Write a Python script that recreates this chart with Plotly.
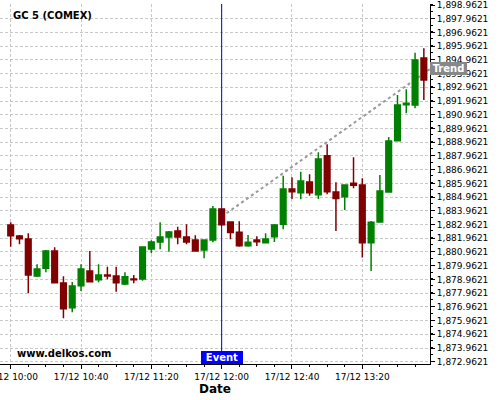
import plotly.graph_objects as go

# ---- data (5-minute candles, 17/12) ----
times = [
    "2020-12-17 10:00", "2020-12-17 10:05", "2020-12-17 10:10", "2020-12-17 10:15",
    "2020-12-17 10:20", "2020-12-17 10:25", "2020-12-17 10:30", "2020-12-17 10:35",
    "2020-12-17 10:40", "2020-12-17 10:45", "2020-12-17 10:50", "2020-12-17 10:55",
    "2020-12-17 11:00", "2020-12-17 11:05", "2020-12-17 11:10", "2020-12-17 11:15",
    "2020-12-17 11:20", "2020-12-17 11:25", "2020-12-17 11:30", "2020-12-17 11:35",
    "2020-12-17 11:40", "2020-12-17 11:45", "2020-12-17 11:50", "2020-12-17 11:55",
    "2020-12-17 12:00", "2020-12-17 12:05", "2020-12-17 12:10", "2020-12-17 12:15",
    "2020-12-17 12:20", "2020-12-17 12:25", "2020-12-17 12:30", "2020-12-17 12:35",
    "2020-12-17 12:40", "2020-12-17 12:45", "2020-12-17 12:50", "2020-12-17 12:55",
    "2020-12-17 13:00", "2020-12-17 13:05", "2020-12-17 13:10", "2020-12-17 13:15",
    "2020-12-17 13:20", "2020-12-17 13:25", "2020-12-17 13:30", "2020-12-17 13:35",
    "2020-12-17 13:40", "2020-12-17 13:45", "2020-12-17 13:50", "2020-12-17 13:55",
]
opens = [
    1882.93, 1882.13, 1881.91, 1879.21, 1879.77, 1881.03, 1878.70, 1876.90,
    1878.50, 1879.57, 1878.94, 1879.28, 1879.21, 1878.63, 1878.99, 1878.99,
    1881.18, 1881.69, 1882.05, 1882.49, 1882.05, 1881.83, 1881.10, 1881.83,
    1884.09, 1883.15, 1882.39, 1881.42, 1881.83, 1881.64, 1882.07, 1882.98,
    1885.55, 1885.28, 1886.06, 1885.14, 1887.98, 1885.33, 1884.99, 1885.97,
    1885.84, 1881.64, 1883.15, 1885.33, 1889.07, 1891.70, 1891.67, 1895.10,
]
highs = [
    1883.12, 1882.20, 1882.32, 1880.06, 1881.10, 1881.30, 1879.19, 1878.77,
    1880.06, 1881.03, 1880.06, 1879.89, 1879.89, 1879.48, 1879.28, 1881.36,
    1881.81, 1883.12, 1882.49, 1882.80, 1882.98, 1882.18, 1881.89, 1884.31,
    1884.13, 1883.18, 1883.20, 1882.20, 1882.10, 1882.32, 1883.00, 1886.52,
    1886.40, 1886.81, 1886.62, 1888.23, 1888.81, 1886.04, 1885.84, 1887.86,
    1886.33, 1883.22, 1886.57, 1889.34, 1892.40, 1892.82, 1895.49, 1895.81,
]
lows = [
    1881.35, 1881.52, 1877.95, 1879.14, 1879.48, 1878.68, 1876.13, 1876.56,
    1878.12, 1878.77, 1878.75, 1878.97, 1878.07, 1878.55, 1878.68, 1878.87,
    1880.86, 1881.16, 1880.98, 1881.52, 1881.52, 1880.98, 1880.50, 1881.67,
    1882.93, 1881.89, 1881.35, 1881.35, 1881.40, 1881.64, 1881.69, 1882.61,
    1884.82, 1884.80, 1885.06, 1884.82, 1885.17, 1882.49, 1884.02, 1885.60,
    1880.56, 1879.57, 1883.10, 1885.28, 1889.07, 1891.07, 1891.43, 1892.04,
]
closes = [
    1882.15, 1881.93, 1879.28, 1879.72, 1881.03, 1878.72, 1876.83, 1878.48,
    1879.72, 1878.79, 1879.28, 1879.21, 1878.72, 1879.16, 1878.94, 1881.32,
    1881.69, 1882.05, 1882.42, 1882.05, 1881.69, 1881.03, 1881.83, 1884.09,
    1882.95, 1882.38, 1881.42, 1881.67, 1881.71, 1881.91, 1882.93, 1885.55,
    1885.35, 1886.13, 1885.28, 1887.74, 1885.35, 1884.86, 1885.84, 1885.82,
    1881.64, 1883.13, 1885.41, 1889.05, 1891.67, 1891.80, 1894.95, 1893.50,
]

trend_times = ["2020-12-17 12:00", "2020-12-17 13:58:30"]
trend_values = [1883.53, 1894.30]
event_time = "2020-12-17 12:00"

x_range = ["2020-12-17 09:53:55", "2020-12-17 13:58:30"]
y_range = [1872.796, 1899.035]

FONT = "DejaVu Sans"
GREEN = "#008000"
RED = "#800000"
GRID = "#c8c8c8"

fig = go.Figure()
fig.add_trace(go.Candlestick(
    x=times, open=opens, high=highs, low=lows, close=closes,
    increasing=dict(line=dict(color=GREEN, width=1.5), fillcolor=GREEN),
    decreasing=dict(line=dict(color=RED, width=1.5), fillcolor=RED),
    whiskerwidth=0,
    showlegend=False,
    hoverinfo="skip",
))

shapes = [
    dict(type="line", xref="x", yref="y",
         x0=trend_times[0], y0=trend_values[0], x1=trend_times[1], y1=trend_values[1],
         line=dict(color="#999999", width=2, dash="dot"), layer="between"),
    dict(type="line", xref="x", yref="paper",
         x0=event_time, x1=event_time, y0=0, y1=1,
         line=dict(color="#0000dd", width=1), layer="above"),
]

annotations = [
    dict(text="<b>GC 5 (COMEX)</b>", xref="paper", yref="paper", x=0.0256, y=0.967,
         xanchor="left", yanchor="middle", showarrow=False,
         font=dict(family=FONT, size=10, color="black")),
    dict(text="<b>www.delkos.com</b>", xref="paper", yref="paper", x=0.035, y=0.028,
         xanchor="left", yanchor="middle", showarrow=False,
         font=dict(family=FONT, size=10, color="black")),
    dict(text="<b>Event</b>", xref="x", yref="paper", x=event_time, y=0.0194,
         xanchor="center", yanchor="middle", showarrow=False,
         bgcolor="#0000ff", width=42, height=13, borderpad=0, borderwidth=0,
         font=dict(family=FONT, size=10, color="white")),
    dict(text="<b>Trend</b>", xref="paper", yref="y", x=1.0, y=trend_values[1],
         xanchor="left", yanchor="middle", showarrow=False,
         bgcolor="#888888", width=37, height=13, borderpad=0, borderwidth=0,
         font=dict(family=FONT, size=10, color="white")),
    dict(text="<b>Date</b>", xref="paper", yref="paper", x=0.5, y=-0.0694,
         xanchor="center", yanchor="middle", showarrow=False,
         font=dict(family=FONT, size=12, color="black")),
]

fig.update_layout(
    width=500, height=400,
    margin=dict(l=0, r=70, t=4, b=36),
    paper_bgcolor="white", plot_bgcolor="white",
    font=dict(family=FONT, size=9, color="black"),
    boxgap=0.2, boxgroupgap=0.2,
    shapes=shapes, annotations=annotations,
    showlegend=False,
    xaxis=dict(
        type="date", range=x_range, rangeslider=dict(visible=False),
        tick0="2020-12-17 10:00", dtick=40 * 60 * 1000, tickformat="%d/%m %H:%M",
        showline=True, linecolor="black", linewidth=1,
        ticks="outside", ticklen=4, tickcolor="black",
        tickfont=dict(family=FONT, size=9, color="black"),
        ticklabeloverflow="allow",
        showgrid=True, gridcolor=GRID, griddash="3px,2px", gridwidth=1,
        zeroline=False, automargin=False,
        minor=dict(dtick=10 * 60 * 1000, ticks="outside", ticklen=2, tickcolor="black", showgrid=False),
    ),
    yaxis=dict(
        side="right", range=y_range,
        tick0=1872.9621, dtick=1, tickformat=",.4f",
        showline=True, linecolor="black", linewidth=1,
        ticks="outside", ticklen=4, tickcolor="black",
        tickfont=dict(family=FONT, size=9, color="black"),
        ticklabeloverflow="allow",
        showgrid=True, gridcolor=GRID, griddash="3px,2px", gridwidth=1,
        zeroline=False, automargin=False,
        minor=dict(dtick=0.5, ticks="outside", ticklen=2, tickcolor="black", showgrid=False),
    ),
)

fig.write_html("out.html", config={"displayModeBar": False},
               post_script="document.body.style.margin='0px';")
